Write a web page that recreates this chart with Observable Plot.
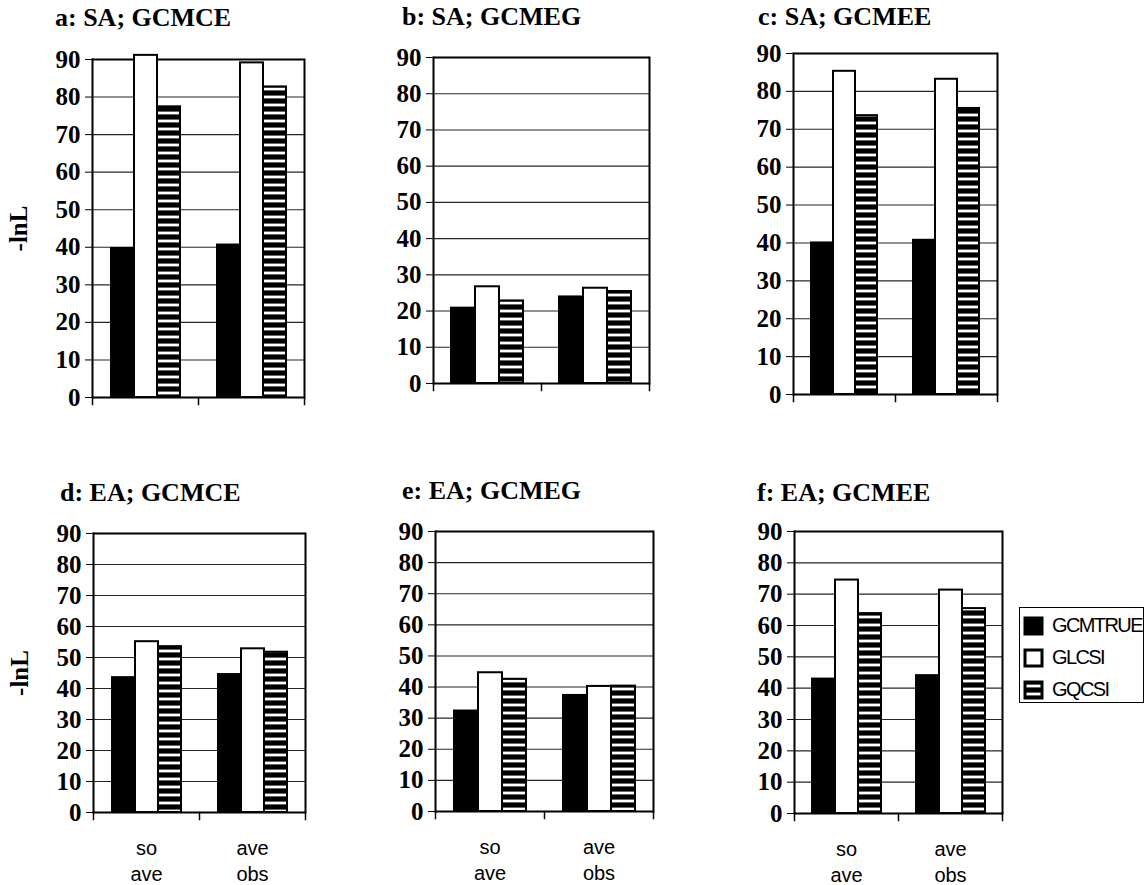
<!DOCTYPE html>
<html><head><meta charset="utf-8">
<script src="https://cdn.jsdelivr.net/npm/d3@7"></script>
<script src="https://cdn.jsdelivr.net/npm/@observablehq/plot@0.6"></script>
<style>
html,body{margin:0;padding:0;background:#fff;}
#wrap{position:relative;width:1145px;height:885px;overflow:hidden;background:#fff;}
.panel{position:absolute;}
.title{position:absolute;font-family:"Liberation Serif","Times New Roman",serif;font-weight:bold;font-size:26px;line-height:26px;white-space:nowrap;color:#000;}
#legend{position:absolute;left:1019px;top:607px;width:125px;height:96px;border:1.5px solid #000;box-sizing:border-box;padding:2px 0 0 5px;background:#fff;overflow:visible;}
#legend *{font-family:"Liberation Sans",Arial,sans-serif !important;font-size:20px !important;color:#000 !important;overflow:visible !important;text-overflow:clip !important;white-space:nowrap !important;max-width:none !important;line-height:31px !important;letter-spacing:-1.6px;}
#legend svg rect{stroke:#000;stroke-width:3px;}
</style></head>
<body><div id="wrap">
<svg width="0" height="0" style="position:absolute">
<defs><pattern id="hatch" patternUnits="userSpaceOnUse" width="8" height="8"><rect width="8" height="8" fill="#000"/><rect y="2.6" width="8" height="2.8" fill="#fff"/></pattern></defs></svg>
</div>
<script>
// ---- data ----
const groups = ["so\nave", "ave\nobs"];
const series = ["GCMTRUE", "GLCSI", "GQCSI"];
const seriesFills = ["#000", "#fff", "url(#hatch)"];
const yTicks = [0, 10, 20, 30, 40, 50, 60, 70, 80, 90];
const gridTicks = [10, 20, 30, 40, 50, 60, 70, 80];
const panelTitles = ["a: SA; GCMCE", "b: SA; GCMEG", "c: SA; GCMEE", "d: EA; GCMCE", "e: EA; GCMEG", "f: EA; GCMEE"];
// values per panel: [so ave: GCMTRUE, GLCSI, GQCSI, ave obs: GCMTRUE, GLCSI, GQCSI]
const saGCMCE = [39.7, 91.1, 77.4, 40.6, 89.1, 82.7];
const saGCMEG = [20.8, 26.7, 22.8, 23.9, 26.3, 25.4];
const saGCMEE = [40.0, 85.3, 73.6, 40.7, 83.2, 75.5];
const eaGCMCE = [43.5, 55.1, 53.5, 44.5, 52.8, 51.7];
const eaGCMEG = [32.3, 44.6, 42.5, 37.3, 40.2, 40.3];
const eaGCMEE = [42.9, 74.5, 63.8, 44.0, 71.3, 65.4];
const panelValues = [saGCMCE, saGCMEG, saGCMEE, eaGCMCE, eaGCMEG, eaGCMEE];

// ---- layout (frame edges in page px) ----
const layout = [
  {L: 92, R: 304, T: 59, B: 397, ylab: true, xlab: false, tx: 55, ty: 5},
  {L: 433, R: 649, T: 57, B: 383, ylab: false, xlab: false, tx: 402, ty: 4},
  {L: 792, R: 997, T: 53, B: 394, ylab: false, xlab: false, tx: 758, ty: 4},
  {L: 92, R: 305, T: 533, B: 812, ylab: true, xlab: true, tx: 60, ty: 480},
  {L: 435, R: 653, T: 531, B: 811, ylab: false, xlab: true, tx: 402, ty: 478},
  {L: 793, R: 1002, T: 531, B: 813, ylab: false, xlab: true, tx: 757, ty: 480}
];
const serif = "Liberation Serif, Times New Roman, serif";
const sans = "Liberation Sans, Arial, sans-serif";

function rows(values) {
  return groups.flatMap((g, gi) => series.map((s, si) => ({group: g, series: s, value: values[gi * 3 + si]})));
}

const wrap = document.getElementById("wrap");

layout.forEach((p, i) => {
  const mL = p.ylab ? p.L : 62, mT = 14, mR = 6, mB = p.xlab ? 74 : 14;
  const plotH = p.B - p.T;
  const marks = [
    Plot.gridY(gridTicks, {stroke: "#000", strokeOpacity: 0.85, strokeWidth: 1.1}),
    Plot.ruleY([90], {stroke: "#000", strokeWidth: 2}),
    Plot.barY(rows(panelValues[i]), {fx: "group", x: "series", y: "value", fill: "series", stroke: "#000", strokeWidth: 2}),
    Plot.ruleY([0], {stroke: "#000", strokeWidth: 2}),
    Plot.frame({anchor: "left", facetAnchor: "left", stroke: "#000", strokeWidth: 2}),
    Plot.frame({anchor: "right", facetAnchor: "right", stroke: "#000", strokeWidth: 2}),
    Plot.frame({anchor: "left", insetTop: plotH, insetBottom: -7, stroke: "#000", strokeWidth: 1.5}),
    Plot.frame({anchor: "right", facetAnchor: "right", insetTop: plotH, insetBottom: -7, stroke: "#000", strokeWidth: 1.5}),
    Plot.axisY(yTicks, {tickSize: 7, tickPadding: 5, fontSize: 25, fontWeight: "bold", fontFamily: serif,
      label: p.ylab ? "-lnL" : null, labelAnchor: "center", labelOffset: 83, labelArrow: false})
  ];
  if (p.xlab) marks.push(Plot.axisFx({anchor: "bottom", tickSize: 0, tickPadding: 24, fontSize: 20, fontFamily: sans, lineHeight: 1.3, label: null}));
  const chart = Plot.plot({
    width: p.R - p.L + mL + mR,
    height: plotH + mT + mB,
    marginLeft: mL, marginRight: mR, marginTop: mT, marginBottom: mB,
    style: {background: "transparent", color: "#000", overflow: "visible"},
    fx: {domain: groups, padding: 0, axis: null, label: null},
    x: {domain: series, paddingInner: 0, paddingOuter: 0.74, axis: null},
    y: {domain: [0, 90], axis: null},
    color: {domain: series, range: seriesFills},
    marks
  });
  const holder = document.createElement("div");
  holder.className = "panel";
  holder.style.left = (p.L - mL) + "px";
  holder.style.top = (p.T - mT) + "px";
  holder.appendChild(chart);
  wrap.appendChild(holder);
  const t = document.createElement("div");
  t.className = "title";
  t.style.left = p.tx + "px";
  t.style.top = p.ty + "px";
  t.textContent = panelTitles[i];
  wrap.appendChild(t);
});

const leg = document.createElement("div");
leg.id = "legend";
leg.appendChild(Plot.legend({color: {type: "ordinal", domain: series, range: seriesFills}, legend: "swatches", columns: 1, swatchWidth: 17, swatchHeight: 16}));
wrap.appendChild(leg);
</script>
</body></html>
